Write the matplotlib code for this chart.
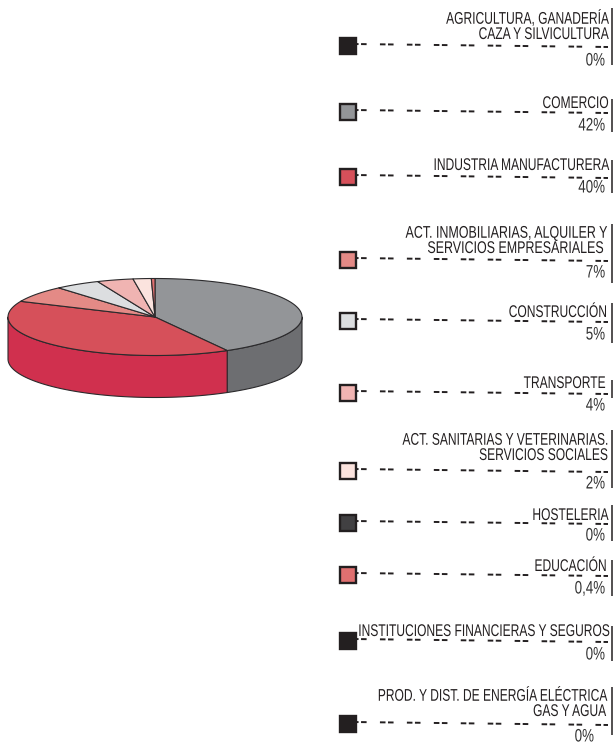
import numpy as np
import matplotlib
matplotlib.use("Agg")
import matplotlib.pyplot as plt
from matplotlib.patches import Polygon, Rectangle
from matplotlib.patheffects import AbstractPathEffect
from matplotlib.transforms import Affine2D

plt.rcParams['lines.scale_dashes'] = False
FONT = 'Liberation Sans'

categories = ["AGRICULTURA, GANADERÍA\nCAZA Y SILVICULTURA", "COMERCIO", "INDUSTRIA MANUFACTURERA",
              "ACT. INMOBILIARIAS, ALQUILER Y\nSERVICIOS EMPRESARIALES ", "CONSTRUCCIÓN", "TRANSPORTE",
              "ACT. SANITARIAS Y VETERINARIAS.\nSERVICIOS SOCIALES", "HOSTELERIA", "EDUCACIÓN",
              "INSTITUCIONES FINANCIERAS Y SEGUROS", "PROD. Y DIST. DE ENERGÍA ELÉCTRICA\nGAS Y AGUA"]
values = [0, 42, 40, 7, 5, 4, 2, 0, 0.4, 0, 0]
pct_labels = ["0%", "42%", "40%", "7%", "5%", "4%", "2%", "0%", "0,4%", "0%", "0%"]
colors = ["#231f20", "#939598", "#d6505a", "#e48a86", "#dcdee0", "#f0b4b2", "#fbe3de", "#414042", "#e07070", "#231f20", "#231f20"]
side_colors = {1: "#6d6e71", 2: "#d0304e"}

swatch_y = [46, 112, 177, 260, 321, 393, 471, 523, 575, 641, 724]
label_bottom = [42, 111, 173, 256, 320, 391, 463, 523, 574, 639, 719]
pct_y = [61, 126, 188, 273, 335, 406, 484, 536, 589, 655, 737]
pct_right = [605, 605, 605, 605, 605, 605, 605, 605, 605, 605, 594]
label_right = [608, 608, 608, 606, 606, 605, 607, 608, 606, 608, 606]
label_squeeze = [0.71, 0.71, 0.71, 0.735, 0.71, 0.71, 0.71, 0.71, 0.71, 0.71, 0.71]
bar_span = [(8, 65), (99, 132), (160, 193), (224, 283), (303, 343), (380, 398), (430, 488), (505, 541), (560, 596), (626, 661), (687, 735)]
EDGE = "#2b2a2c"


class Narrow(AbstractPathEffect):
    """Squeeze glyphs horizontally about the text's right edge (condensed type)."""
    def __init__(self, x_right, factor):
        super().__init__()
        self.x_right, self.factor = x_right, factor

    def draw_path(self, renderer, gc, tpath, affine, rgbFace):
        t = affine + Affine2D().translate(-self.x_right, 0).scale(self.factor, 1).translate(self.x_right, 0)
        renderer.draw_path(gc, tpath, t, rgbFace)


fig = plt.figure(figsize=(6.14, 7.44), dpi=100)
ax = fig.add_axes([0, 0, 1, 1])
ax.set_xlim(0, 614); ax.set_ylim(744, 0); ax.axis('off')

cx, cy, rx, ry, depth = 155, 317, 147, 38.5, 42
total = sum(values)
def pt(theta):
    return cx + rx*np.sin(theta), cy - ry*np.cos(theta)

order = [1, 2, 3, 4, 5, 6, 7, 8]
angles = {}
a = 0.0
for i in order:
    a2 = a + 2*np.pi*values[i]/total
    angles[i] = (a, a2)
    a = a2

for i in order:
    a0, a1 = angles[i]
    lo, hi = max(a0, np.pi/2), min(a1, 3*np.pi/2)
    if hi <= lo:
        continue
    th = np.linspace(lo, hi, 80)
    xs, ys = pt(th)
    verts = np.r_[np.c_[xs, ys], np.c_[xs[::-1], ys[::-1]+depth]]
    ax.add_patch(Polygon(verts, closed=True, fc=side_colors.get(i, colors[i]), ec=EDGE, lw=0.8, joinstyle='round'))
for i in order:
    a0, a1 = angles[i]
    if a1 <= a0:
        continue
    th = np.linspace(a0, a1, 120)
    xs, ys = pt(th)
    verts = np.r_[[[cx, cy]], np.c_[xs, ys]]
    ax.add_patch(Polygon(verts, closed=True, fc=colors[i], ec=EDGE, lw=0.8, joinstyle='round'))

for i, cat in enumerate(categories):
    y = swatch_y[i]
    ax.add_patch(Rectangle((339.5, y-8), 16, 16, fc=colors[i], ec="#231f20", lw=1.7, zorder=3))
    ax.plot([353, 608], [y-2, y+1], color="#231f20", lw=1.4, dashes=(4.0, 1.8, 4.0, 9.6), dash_capstyle='butt', zorder=2)
    ax.text(label_right[i], label_bottom[i], cat, ha='right', va='bottom', fontsize=12.2, family=FONT, color="#231f20",
            linespacing=1.02, zorder=4, path_effects=[Narrow(label_right[i], label_squeeze[i])])
    ax.text(pct_right[i], pct_y[i], pct_labels[i], ha='right', va='center', fontsize=13, family=FONT, color="#333333",
            zorder=4, path_effects=[Narrow(pct_right[i], 0.74)])
    ax.plot([612, 612], bar_span[i], color="#231f20", lw=1.1, solid_capstyle='butt')

fig.savefig("out.png", dpi=100)
